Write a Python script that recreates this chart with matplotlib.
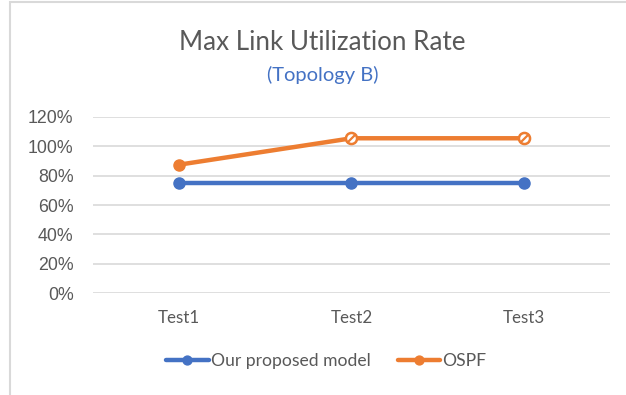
import matplotlib
matplotlib.use("Agg")
import matplotlib.pyplot as plt
from matplotlib.patches import Rectangle
from matplotlib.ticker import PercentFormatter

# data
tests = ["Test1", "Test2", "Test3"]
proposed = [0.75, 0.75, 0.75]
ospf = [0.875, 1.055, 1.055]

blue = "#4472C4"
orange = "#ED7D31"
grey = "#595959"

plt.rcParams["font.family"] = ["Lato", "DejaVu Sans"]

fig = plt.figure(figsize=(6.26, 3.95), dpi=100)
ax = fig.add_axes([0.1486, 0.2582, 0.8258, 0.4456])

x = range(len(tests))
ax.plot(x, proposed, color=blue, lw=3.2, marker="o", ms=8, label="Our proposed model",
        solid_capstyle="round", zorder=3)
ax.plot(x, ospf, color=orange, lw=3.2, marker="o", ms=8, label="OSPF",
        solid_capstyle="round", zorder=3)

# points over 100% drawn as hollow markers with a slash
for i, v in enumerate(ospf):
    if v > 1.0:
        ax.plot(i, v, marker="o", ms=8, mfc="white", mec=orange, mew=1.8, zorder=4)
        ax.plot(i, v, marker=(2, 0, -45), ms=7, mec=orange, mew=1.6, zorder=5)

ax.set_xlim(-0.5, 2.5)
ax.set_ylim(0, 1.2)
ax.set_yticks([0, 0.2, 0.4, 0.6, 0.8, 1.0, 1.2])
ax.yaxis.set_major_formatter(PercentFormatter(1.0, decimals=0))
ax.set_xticks(list(x))
ax.set_xticklabels(tests)
ax.grid(axis="y", color="#D9D9D9", lw=1.2)
ax.set_axisbelow(True)
for s in ax.spines.values():
    s.set_visible(False)
ax.tick_params(length=0, colors=grey)
ax.tick_params(axis="y", pad=14)
ax.tick_params(axis="x", pad=12)
for lab in ax.get_yticklabels():
    lab.set_fontfamily("Liberation Sans")
    lab.set_fontsize(12.8)
for lab in ax.get_xticklabels():
    lab.set_fontsize(12.2)

fig.text(0.514, 0.893, "Max Link Utilization Rate", ha="center", va="center",
         fontsize=18.7, color=grey)
fig.text(0.515, 0.81, "(Topology B)", ha="center", va="center",
         fontsize=14.5, color=blue)

leg = fig.legend(loc="center", bbox_to_anchor=(0.521, 0.086), ncol=2, frameon=False,
                 handlelength=2.45, handletextpad=0.1, columnspacing=1.55, fontsize=12.6,
                 markerscale=0.8)
for t in leg.get_texts():
    t.set_color(grey)

# chart frame (left and top edges visible)
fig.patches.append(Rectangle((10 / 626, -0.1), 1.2, 1 - 2 / 395 + 0.1,
                             transform=fig.transFigure, fill=False,
                             edgecolor="#D9D9D9", lw=1.5))

fig.savefig("out.png", dpi=100)
